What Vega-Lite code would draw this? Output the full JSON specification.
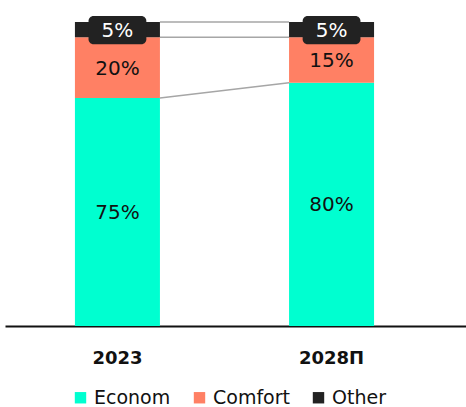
{
  "$schema": "https://vega.github.io/schema/vega-lite/v6.json",
  "autosize": "none",
  "width": 461,
  "height": 304,
  "padding": {"left": 5, "top": 22, "right": 0, "bottom": 81},
  "background": "white",
  "config": {"view": {"stroke": null}, "font": "DejaVu Sans"},
  "datasets": {
    "shares": [
      {"year": "2023", "segment": "Econom", "rank": 1, "value": 75},
      {"year": "2023", "segment": "Comfort", "rank": 2, "value": 20},
      {"year": "2023", "segment": "Other", "rank": 3, "value": 5},
      {"year": "2028П", "segment": "Econom", "rank": 1, "value": 80},
      {"year": "2028П", "segment": "Comfort", "rank": 2, "value": 15},
      {"year": "2028П", "segment": "Other", "rank": 3, "value": 5}
    ],
    "links": [
      {"from": "2023", "to": "2028П", "a": 100, "b": 100},
      {"from": "2023", "to": "2028П", "a": 95, "b": 95},
      {"from": "2023", "to": "2028П", "a": 75, "b": 80}
    ]
  },
  "data": {"name": "shares"},
  "transform": [
    {"stack": "value", "groupby": ["year"], "sort": [{"field": "rank", "order": "ascending"}], "as": ["y0", "y1"]},
    {"calculate": "(datum.y0 + datum.y1) / 2", "as": "mid"},
    {"calculate": "datum.value + '%'", "as": "label"}
  ],
  "encoding": {
    "x": {
      "field": "year", "type": "nominal", "sort": ["2023", "2028П"],
      "scale": {"paddingInner": 0.603, "paddingOuter": 0.378, "align": 0.432},
      "axis": {
        "title": null, "labelAngle": 0, "ticks": false, "domainColor": "#111111", "domainWidth": 2,
        "labelFontSize": 18, "labelFontWeight": "bold", "labelColor": "#111111",
        "labelPadding": 32, "labelBaseline": "middle"
      }
    }
  },
  "layer": [
    {
      "mark": {"type": "bar", "width": {"band": 1}},
      "encoding": {
        "y": {"field": "y1", "type": "quantitative", "scale": {"domain": [0, 100]}, "axis": null},
        "y2": {"field": "y0"},
        "color": {
          "field": "segment", "type": "nominal",
          "scale": {"domain": ["Econom", "Comfort", "Other"], "range": ["#00FFD0", "#FF8064", "#222222"]},
          "legend": {
            "orient": "none", "legendX": 66, "legendY": 366, "direction": "horizontal", "title": null,
            "symbolType": "square", "symbolSize": 130, "symbolStrokeWidth": 0, "symbolOpacity": 1,
            "labelFontSize": 19, "labelColor": "#111111", "labelOffset": 4, "columnPadding": 19
          }
        }
      }
    },
    {
      "data": {"name": "links"},
      "mark": {"type": "rule", "color": "#a6a6a6", "strokeWidth": 1.5},
      "encoding": {
        "x": {"field": "from", "type": "nominal", "bandPosition": 1},
        "x2": {"field": "to", "bandPosition": 0},
        "y": {"field": "a", "type": "quantitative"},
        "y2": {"field": "b"}
      }
    },
    {
      "transform": [{"filter": "datum.segment === 'Other'"}],
      "mark": {"type": "bar", "width": {"band": 0.68}, "color": "#222222", "cornerRadius": 5, "yOffset": -6, "y2Offset": 7},
      "encoding": {
        "y": {"field": "y1", "type": "quantitative"},
        "y2": {"field": "y0"}
      }
    },
    {
      "mark": {"type": "text", "fontSize": 20, "baseline": "middle", "align": "center", "dy": 1},
      "encoding": {
        "y": {"field": "mid", "type": "quantitative"},
        "text": {"field": "label"},
        "color": {
          "condition": {"test": "datum.segment === 'Other'", "value": "#ffffff"},
          "value": "#111111"
        }
      }
    }
  ]
}
